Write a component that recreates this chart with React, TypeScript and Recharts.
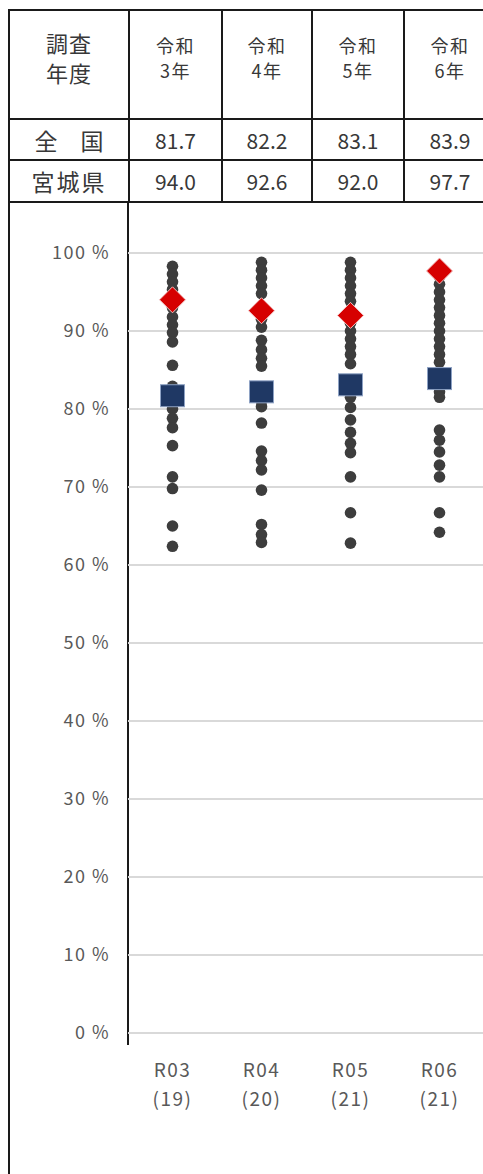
import React from 'react'
import { ScatterChart, Scatter, XAxis, YAxis, CartesianGrid } from 'recharts'

const years = ['R03', 'R04', 'R05', 'R06']
const counts = ['(19)', '(20)', '(21)', '(21)']
const headerYears = ['3年', '4年', '5年', '6年']
const national = [81.7, 82.2, 83.1, 83.9]
const miyagi = [94.0, 92.6, 92.0, 97.7]
const yTicks = [0, 10, 20, 30, 40, 50, 60, 70, 80, 90, 100]

// individual results per year
const r03 = [98.3, 97.3, 96.3, 95.3, 93.0, 91.8, 90.8, 89.8, 88.6, 85.6, 82.9, 80.0, 78.8, 77.6, 75.3, 71.3, 69.8, 65.0, 62.4]
const r04 = [98.8, 97.8, 96.8, 95.8, 94.8, 91.5, 90.5, 88.8, 87.6, 86.5, 85.5, 80.3, 78.2, 74.6, 73.4, 72.2, 69.6, 65.2, 63.9, 62.9, 81.0]
const r05 = [98.8, 97.8, 96.8, 95.8, 94.8, 93.8, 91.0, 90.0, 89.0, 88.0, 87.0, 85.8, 81.5, 80.2, 78.6, 77.0, 75.6, 74.4, 71.3, 66.7, 62.8]
const r06 = [97.0, 96.0, 95.0, 94.0, 93.0, 92.0, 91.0, 90.0, 89.0, 88.0, 87.0, 86.0, 82.2, 81.5, 77.3, 76.0, 74.5, 72.8, 71.3, 66.7, 64.2]

const perYear = [r03, r04, r05, r06]
const dots = perYear.flatMap((arr, i) => arr.map((v) => ({ x: i, y: v })))
const nationalPts = national.map((v, i) => ({ x: i, y: v }))
const miyagiPts = miyagi.map((v, i) => ({ x: i, y: v }))

const FONT = '"Noto Sans CJK JP", "Noto Sans", sans-serif'
const LINE = '2px solid #1a1a1a'

const Dot = (p: any) => <circle cx={p.cx} cy={p.cy} r={5.8} fill="#3d3d3d" />
const Square = (p: any) => (
  <rect x={p.cx - 12} y={p.cy - 11} width={24} height={22} fill="#1f3864" stroke="#8ea2c4" strokeWidth={1} />
)
const Diamond = (p: any) => (
  <polygon
    points={`${p.cx},${p.cy - 13} ${p.cx + 13},${p.cy} ${p.cx},${p.cy + 13} ${p.cx - 13},${p.cy}`}
    fill="#d60000"
    stroke="#f3c2c2"
    strokeWidth={1}
  />
)

const XTick = (p: any) => {
  const i = p.payload.value
  return (
    <text x={p.x} y={p.y} textAnchor="middle" fill="#595959" fontSize={19} letterSpacing={1.5} fontFamily={FONT}>
      <tspan x={p.x} dy={44}>{years[i]}</tspan>
      <tspan x={p.x} dy={29}>{counts[i]}</tspan>
    </text>
  )
}

const cell = (w: number, extra: React.CSSProperties = {}): React.CSSProperties => ({
  width: w,
  border: LINE,
  padding: 0,
  textAlign: 'center',
  color: '#383838',
  fontFamily: FONT,
  ...extra,
})

export default function App() {
  const colW = [118, 91, 88, 90, 90]
  return (
    <div style={{ position: 'fixed', left: 0, top: 0, width: 483, height: 1174, overflow: 'hidden', background: '#fff' }}>
      <table
        style={{
          position: 'absolute',
          left: 8,
          top: 9,
          borderCollapse: 'collapse',
          tableLayout: 'fixed',
          width: colW.reduce((a, b) => a + b, 0),
        }}
      >
        <tbody>
          <tr style={{ height: 109 }}>
            <td style={cell(colW[0], { verticalAlign: 'top', paddingTop: 16, fontSize: 22, lineHeight: '30px', letterSpacing: 1 })}>
              調査
              <br />
              年度
            </td>
            {headerYears.map((h, i) => (
              <td
                key={h}
                style={cell(colW[i + 1], { verticalAlign: 'top', paddingTop: 22, fontSize: 18, lineHeight: '25px', letterSpacing: 1.5 })}
              >
                令和
                <br />
                {h}
              </td>
            ))}
          </tr>
          <tr style={{ height: 41 }}>
            <td style={cell(colW[0], { fontSize: 23, lineHeight: '26px' })}>全&emsp;国</td>
            {national.map((v, i) => (
              <td key={i} style={cell(colW[i + 1], { fontSize: 21 })}>
                {v.toFixed(1)}
              </td>
            ))}
          </tr>
          <tr style={{ height: 42 }}>
            <td style={cell(colW[0], { fontSize: 23, lineHeight: '26px', letterSpacing: 2 })}>宮城県</td>
            {miyagi.map((v, i) => (
              <td key={i} style={cell(colW[i + 1], { fontSize: 21 })}>
                {v.toFixed(1)}
              </td>
            ))}
          </tr>
        </tbody>
      </table>
      <div style={{ position: 'absolute', left: 8, top: 202, height: 1000, borderLeft: LINE }} />
      <div style={{ position: 'absolute', left: 127, top: 202, height: 843, borderLeft: LINE }} />
      <div style={{ position: 'absolute', left: 0, top: 202 }}>
        <ScatterChart width={490} height={972} margin={{ top: 51, right: 6, left: 0, bottom: 39 }}>
          <CartesianGrid vertical={false} stroke="#d9d9d9" strokeWidth={2} />
          <XAxis
            type="number"
            dataKey="x"
            domain={[-0.5, 3.5]}
            ticks={[0, 1, 2, 3]}
            axisLine={false}
            tickLine={false}
            tickSize={0}
            tickMargin={0}
            height={102}
            tick={<XTick />}
          />
          <YAxis
            type="number"
            dataKey="y"
            domain={[0, 100]}
            ticks={yTicks}
            width={128}
            axisLine={false}
            tickLine={false}
            tickSize={0}
            tickMargin={18}
            tickFormatter={(v) => `${v} %`}
            tick={{ fill: '#595959', fontSize: 18, fontFamily: FONT, letterSpacing: 1.5 }}
          />
          <Scatter data={dots} shape={Dot} isAnimationActive={false} />
          <Scatter data={nationalPts} shape={Square} isAnimationActive={false} />
          <Scatter data={miyagiPts} shape={Diamond} isAnimationActive={false} />
        </ScatterChart>
      </div>
    </div>
  )
}
